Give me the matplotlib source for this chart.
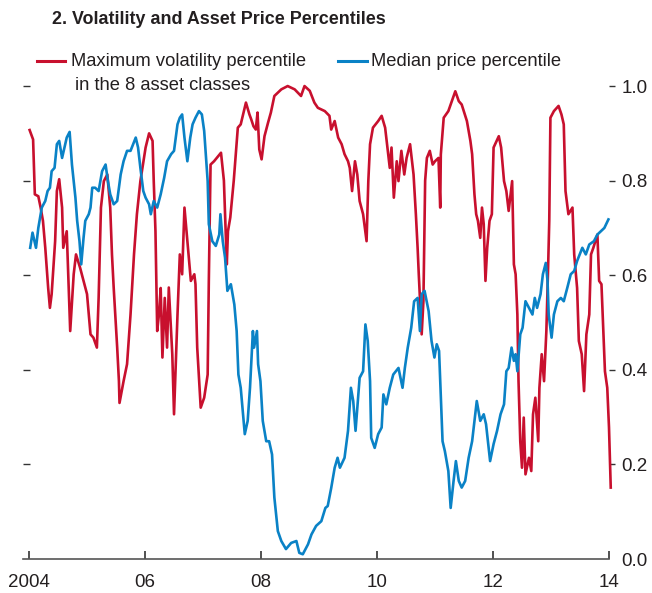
import matplotlib
matplotlib.use('Agg')
import matplotlib.pyplot as plt
from matplotlib.lines import Line2D
from matplotlib import font_manager

# Data (decimal years, percentile)
vol_years = [2004.01, 2004.07, 2004.10, 2004.16, 2004.20, 2004.24, 2004.28, 2004.33, 2004.36, 2004.39,
             2004.45, 2004.48, 2004.52, 2004.57, 2004.59, 2004.65, 2004.68, 2004.71, 2004.77, 2004.81,
             2004.88, 2005.00, 2005.06, 2005.11, 2005.17, 2005.20, 2005.24, 2005.29, 2005.35, 2005.40,
             2005.43, 2005.46, 2005.52, 2005.55, 2005.56, 2005.63, 2005.69, 2005.75, 2005.81, 2005.86,
             2005.92, 2006.01, 2006.07, 2006.13, 2006.15, 2006.18, 2006.21, 2006.24, 2006.27, 2006.30,
             2006.34, 2006.38, 2006.41, 2006.47, 2006.50, 2006.56, 2006.60, 2006.64, 2006.68, 2006.73,
             2006.79, 2006.85, 2006.87, 2006.90, 2006.96, 2007.02, 2007.08, 2007.10, 2007.13, 2007.19,
             2007.31, 2007.36, 2007.41, 2007.43, 2007.47, 2007.53, 2007.60, 2007.65, 2007.74, 2007.80,
             2007.83, 2007.87, 2007.91, 2007.94, 2007.97, 2008.01, 2008.06, 2008.12, 2008.17, 2008.23,
             2008.35, 2008.46, 2008.58, 2008.69, 2008.75, 2008.84, 2008.92, 2008.98, 2009.10, 2009.18,
             2009.21, 2009.27, 2009.33, 2009.39, 2009.44, 2009.50, 2009.53, 2009.57, 2009.62, 2009.66,
             2009.70, 2009.76, 2009.79, 2009.82, 2009.85, 2009.88, 2009.93, 2010.02, 2010.08, 2010.14,
             2010.18, 2010.22, 2010.25, 2010.29, 2010.34, 2010.37, 2010.42, 2010.47, 2010.51, 2010.57,
             2010.63, 2010.67, 2010.70, 2010.72, 2010.77, 2010.80, 2010.83, 2010.86, 2010.91, 2010.96,
             2011.00, 2011.06, 2011.09, 2011.10, 2011.15, 2011.23, 2011.29, 2011.35, 2011.41, 2011.46,
             2011.55, 2011.61, 2011.64, 2011.68, 2011.71, 2011.74, 2011.78, 2011.81, 2011.84, 2011.87,
             2011.90, 2011.94, 2011.98, 2012.01, 2012.10, 2012.14, 2012.19, 2012.23, 2012.27, 2012.33,
             2012.36, 2012.39, 2012.42, 2012.44, 2012.47, 2012.50, 2012.53, 2012.56, 2012.62, 2012.66,
             2012.69, 2012.73, 2012.78, 2012.80, 2012.84, 2012.88, 2012.92, 2012.95, 2012.97, 2012.99,
             2013.05, 2013.13, 2013.18, 2013.22, 2013.25, 2013.30, 2013.37, 2013.40, 2013.45, 2013.48,
             2013.53, 2013.57, 2013.61, 2013.66, 2013.69, 2013.73, 2013.80, 2013.83, 2013.87, 2013.93,
             2013.97, 2014.00, 2014.03]
vol_pct = [0.907, 0.887, 0.771, 0.767, 0.743, 0.715, 0.658, 0.573, 0.531, 0.560,
           0.672, 0.778, 0.803, 0.743, 0.658, 0.693, 0.588, 0.482, 0.602, 0.644,
           0.616, 0.560, 0.475, 0.468, 0.447, 0.552, 0.743, 0.799, 0.813, 0.743,
           0.644, 0.573, 0.447, 0.376, 0.330, 0.376, 0.412, 0.517, 0.644, 0.729,
           0.799, 0.870, 0.900, 0.884, 0.800, 0.693, 0.482, 0.517, 0.573, 0.426,
           0.552, 0.447, 0.574, 0.433, 0.306, 0.517, 0.644, 0.602, 0.743, 0.672,
           0.588, 0.602, 0.581, 0.447, 0.320, 0.341, 0.390, 0.588, 0.834, 0.841,
           0.859, 0.800, 0.623, 0.693, 0.722, 0.800, 0.912, 0.919, 0.965, 0.940,
           0.930, 0.915, 0.908, 0.944, 0.866, 0.845, 0.894, 0.922, 0.944, 0.979,
           0.993, 1.000, 0.993, 0.979, 1.000, 0.990, 0.965, 0.954, 0.947, 0.937,
           0.908, 0.926, 0.891, 0.877, 0.856, 0.841, 0.827, 0.778, 0.841, 0.813,
           0.757, 0.729, 0.700, 0.672, 0.799, 0.877, 0.912, 0.926, 0.937, 0.912,
           0.870, 0.827, 0.870, 0.764, 0.841, 0.799, 0.863, 0.813, 0.848, 0.877,
           0.813, 0.729, 0.658, 0.602, 0.475, 0.545, 0.800, 0.848, 0.863, 0.834,
           0.841, 0.848, 0.743, 0.855, 0.933, 0.947, 0.968, 0.989, 0.968, 0.961,
           0.926, 0.884, 0.856, 0.771, 0.729, 0.715, 0.679, 0.743, 0.708, 0.588,
           0.658, 0.715, 0.729, 0.870, 0.894, 0.870, 0.799, 0.778, 0.736, 0.799,
           0.623, 0.602, 0.517, 0.376, 0.249, 0.193, 0.299, 0.179, 0.214, 0.186,
           0.306, 0.341, 0.249, 0.362, 0.433, 0.376, 0.482, 0.616, 0.715, 0.933,
           0.947, 0.958, 0.940, 0.919, 0.778, 0.729, 0.743, 0.644, 0.573, 0.461,
           0.433, 0.355, 0.475, 0.517, 0.644, 0.658, 0.686, 0.588, 0.581, 0.397,
           0.362, 0.278, 0.151]

price_years = [2004.02, 2004.06, 2004.12, 2004.16, 2004.22, 2004.28, 2004.32, 2004.36, 2004.39, 2004.44,
               2004.48, 2004.52, 2004.57, 2004.61, 2004.65, 2004.70, 2004.74, 2004.80, 2004.83, 2004.87,
               2004.90, 2004.94, 2004.97, 2005.03, 2005.06, 2005.09, 2005.14, 2005.20, 2005.23, 2005.26,
               2005.32, 2005.36, 2005.40, 2005.46, 2005.52, 2005.58, 2005.63, 2005.69, 2005.75, 2005.84,
               2005.88, 2005.92, 2005.97, 2006.01, 2006.07, 2006.10, 2006.15, 2006.21, 2006.27, 2006.33,
               2006.38, 2006.45, 2006.50, 2006.56, 2006.60, 2006.64, 2006.68, 2006.73, 2006.78, 2006.82,
               2006.87, 2006.93, 2006.98, 2007.02, 2007.08, 2007.10, 2007.16, 2007.22, 2007.28, 2007.30,
               2007.34, 2007.38, 2007.42, 2007.48, 2007.54, 2007.58, 2007.61, 2007.65, 2007.70, 2007.72,
               2007.77, 2007.81, 2007.86, 2007.88, 2007.93, 2007.95, 2007.99, 2008.03, 2008.09, 2008.14,
               2008.19, 2008.23, 2008.29, 2008.35, 2008.43, 2008.52, 2008.61, 2008.66, 2008.72, 2008.81,
               2008.87, 2008.95, 2009.04, 2009.11, 2009.15, 2009.21, 2009.27, 2009.32, 2009.36, 2009.44,
               2009.50, 2009.55, 2009.59, 2009.63, 2009.67, 2009.70, 2009.76, 2009.80, 2009.84, 2009.88,
               2009.90, 2009.96, 2010.02, 2010.08, 2010.11, 2010.16, 2010.22, 2010.28, 2010.37, 2010.44,
               2010.48, 2010.53, 2010.59, 2010.64, 2010.70, 2010.74, 2010.77, 2010.82, 2010.89, 2010.94,
               2010.99, 2011.03, 2011.07, 2011.13, 2011.17, 2011.23, 2011.27, 2011.32, 2011.36, 2011.41,
               2011.46, 2011.52, 2011.58, 2011.64, 2011.68, 2011.72, 2011.78, 2011.84, 2011.88, 2011.95,
               2012.01, 2012.07, 2012.13, 2012.19, 2012.23, 2012.27, 2012.32, 2012.36, 2012.39, 2012.42,
               2012.47, 2012.51, 2012.56, 2012.62, 2012.68, 2012.72, 2012.76, 2012.82, 2012.86, 2012.91,
               2012.94, 2012.96, 2013.01, 2013.05, 2013.11, 2013.17, 2013.22, 2013.28, 2013.34, 2013.40,
               2013.45, 2013.54, 2013.60, 2013.66, 2013.74, 2013.80, 2013.86, 2013.92, 2013.99]
price_pct = [0.658, 0.690, 0.658, 0.700, 0.743, 0.757, 0.778, 0.785, 0.820, 0.827,
             0.877, 0.884, 0.848, 0.870, 0.891, 0.903, 0.834, 0.764, 0.715, 0.672,
             0.623, 0.679, 0.715, 0.729, 0.743, 0.785, 0.785, 0.778, 0.799, 0.820,
             0.834, 0.799, 0.771, 0.750, 0.757, 0.813, 0.841, 0.863, 0.863, 0.891,
             0.870, 0.827, 0.778, 0.764, 0.750, 0.729, 0.757, 0.743, 0.771, 0.806,
             0.841, 0.856, 0.863, 0.919, 0.933, 0.940, 0.891, 0.841, 0.891, 0.919,
             0.933, 0.947, 0.940, 0.905, 0.799, 0.708, 0.672, 0.662, 0.686, 0.729,
             0.672, 0.637, 0.567, 0.581, 0.538, 0.482, 0.390, 0.362, 0.292, 0.264,
             0.292, 0.362, 0.482, 0.447, 0.482, 0.412, 0.376, 0.292, 0.249, 0.249,
             0.221, 0.130, 0.059, 0.038, 0.021, 0.034, 0.038, 0.013, 0.010, 0.031,
             0.052, 0.070, 0.080, 0.108, 0.112, 0.150, 0.193, 0.214, 0.193, 0.214,
             0.271, 0.362, 0.334, 0.271, 0.334, 0.383, 0.397, 0.496, 0.461, 0.376,
             0.256, 0.235, 0.264, 0.278, 0.348, 0.327, 0.362, 0.390, 0.404, 0.362,
             0.404, 0.447, 0.489, 0.545, 0.552, 0.482, 0.560, 0.567, 0.524, 0.461,
             0.426, 0.454, 0.440, 0.249, 0.228, 0.186, 0.108, 0.165, 0.207, 0.165,
             0.151, 0.165, 0.214, 0.249, 0.292, 0.334, 0.292, 0.306, 0.285, 0.207,
             0.243, 0.271, 0.306, 0.327, 0.397, 0.404, 0.447, 0.419, 0.433, 0.397,
             0.475, 0.489, 0.545, 0.531, 0.517, 0.552, 0.531, 0.560, 0.602, 0.626,
             0.588, 0.517, 0.468, 0.517, 0.545, 0.552, 0.545, 0.573, 0.602, 0.609,
             0.630, 0.658, 0.644, 0.665, 0.672, 0.686, 0.693, 0.700, 0.718]

x_ticks = [2004, 2006, 2008, 2010, 2012, 2014]
x_ticklabels = ['2004', '06', '08', '10', '12', '14']
y_ticks = [0.0, 0.2, 0.4, 0.6, 0.8, 1.0]

RED = '#C8102E'
BLUE = '#0A82C6'
TXT = '#231F20'

names = {f.name for f in font_manager.fontManager.ttflist}
if 'Liberation Sans Narrow' in names:
    plt.rcParams['font.family'] = ['Liberation Sans Narrow', 'DejaVu Sans']
else:
    plt.rcParams['font.family'] = ['Liberation Sans', 'DejaVu Sans']

fig = plt.figure(figsize=(6.52, 5.93), dpi=100)
ax = fig.add_axes([23/652, 34/593, 586/652, 496.6/593])

ax.plot(vol_years, vol_pct, color=RED, lw=1.9, solid_joinstyle='round', clip_on=False)
ax.plot(price_years, price_pct, color=BLUE, lw=1.9, solid_joinstyle='round', clip_on=False)

ax.set_xlim(2003.896, 2014.0)
ax.set_ylim(0, 1.05)

for s in ['left', 'right', 'top']:
    ax.spines[s].set_visible(False)
ax.spines['bottom'].set_color('#555555')
ax.spines['bottom'].set_linewidth(1.2)

ax.set_xticks(x_ticks)
ax.set_xticklabels(x_ticklabels)
ax.tick_params(axis='x', direction='in', length=6, width=1.2, color='#333333',
               labelsize=13.5, labelcolor=TXT, pad=11)

ax.yaxis.tick_right()
ax.set_yticks(y_ticks)
ax.set_yticklabels([f'{v:.1f}' for v in y_ticks])
ax.tick_params(axis='y', direction='out', length=4, width=1.0, color='#333333',
               labelsize=13.5, labelcolor=TXT, pad=5)
ax.yaxis.get_major_ticks()[0].tick2line.set_visible(False)

# left side: tick marks only
sec = ax.secondary_yaxis('left')
sec.set_yticks(y_ticks[1:])
sec.tick_params(direction='in', length=5, width=1.0, color='#333333', labelleft=False)
sec.spines['left'].set_visible(False)

fig.text(52/652, 1 - 20/593, '2. Volatility and Asset Price Percentiles',
         fontsize=12.9, fontweight='bold', color=TXT, va='center', ha='left')

# legend
fig.add_artist(Line2D([37/652, 65/652], [1 - 61/593, 1 - 61/593], color=RED, lw=2.2))
fig.text(71/652, 1 - 62/593, 'Maximum volatility percentile', fontsize=13.2,
         color=TXT, va='center', ha='left')
fig.text(75/652, 1 - 86/593, 'in the 8 asset classes', fontsize=13.2,
         color=TXT, va='center', ha='left')
fig.add_artist(Line2D([338/652, 367/652], [1 - 61/593, 1 - 61/593], color=BLUE, lw=2.2))
fig.text(371/652, 1 - 62/593, 'Median price percentile', fontsize=13.2,
         color=TXT, va='center', ha='left')

fig.savefig('out.png', dpi=100)
